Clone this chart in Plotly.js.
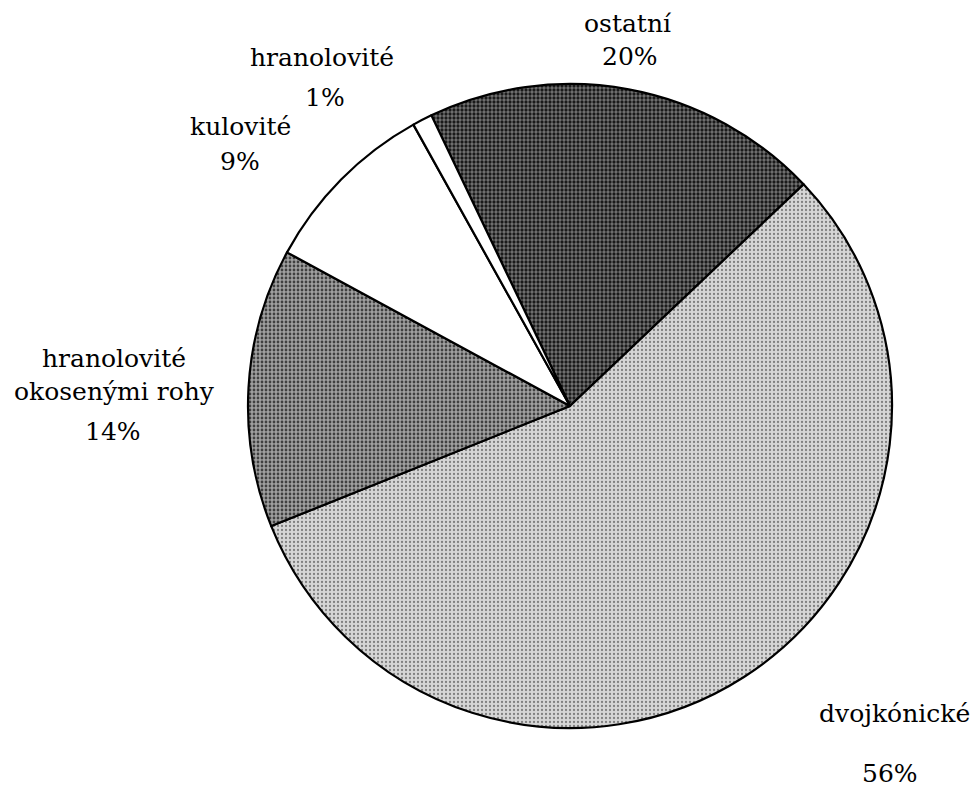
<!DOCTYPE html>
<html>
<head>
<meta charset="utf-8">
<script src="https://cdn.plot.ly/plotly-3.0.1.min.js"></script>
<style>html,body{margin:0;padding:0;background:#fff;}#chart{width:975px;height:791px;}</style>
</head>
<body>
<div id="chart"></div>
<script>
// Data
const labels = ["ostatní", "dvojkónické", "hranolovité<br>okosenými rohy", "kulovité", "hranolovité"];
const values = [20, 56, 14, 9, 1];
const pctLabels = ["20%", "56%", "14%", "9%", "1%"];

// Styles
const fills = ["#767676", "#d6d6d6", "#a0a0a0", "#ffffff", "#ffffff"];
const fg = ["#1a1a1a", "#808080", "#404040", "#ffffff", "#ffffff"];
const sol = [0.52, 0.25, 0.38, 0.01, 0.01];
// label and percentage centers in pixels (x, y from top)
const labelPos = [[628, 24], [894, 713], [114, 375], [240, 127], [322, 57]];
const pctPos = [[630, 56], [890, 773], [113, 431], [240, 161], [325, 97]];

const W = 975, H = 791;
const cx = 570, cy = 406, r = 322;
const fontFam = "DejaVu Serif";

const trace = {
  type: "pie",
  labels: labels,
  values: values,
  sort: false,
  direction: "clockwise",
  rotation: -25.5,
  textinfo: "none",
  hoverinfo: "label+percent",
  showlegend: false,
  domain: {
    x: [(cx - r) / W, (cx + r) / W],
    y: [(H - cy - r) / H, (H - cy + r) / H]
  },
  marker: {
    colors: fills,
    line: {color: "#000000", width: 2.2},
    pattern: {
      shape: ".",
      bgcolor: fills,
      fgcolor: fg,
      size: 4,
      solidity: sol
    }
  }
};

function ann(text, p) {
  return {
    xref: "paper", yref: "paper",
    x: p[0] / W, y: 1 - p[1] / H,
    xanchor: "center", yanchor: "middle",
    text: text, showarrow: false, align: "center",
    font: {family: fontFam, size: 25, color: "#000"}
  };
}
const annotations = [];
labels.forEach((lab, i) => {
  annotations.push(ann(lab, labelPos[i]));
  annotations.push(ann(pctLabels[i], pctPos[i]));
});

const layout = {
  width: W, height: H,
  margin: {l: 0, r: 0, t: 0, b: 0},
  paper_bgcolor: "#fff",
  plot_bgcolor: "#fff",
  font: {family: fontFam},
  annotations: annotations
};

Plotly.newPlot("chart", [trace], layout, {displayModeBar: false, staticPlot: true});
</script>
</body>
</html>
